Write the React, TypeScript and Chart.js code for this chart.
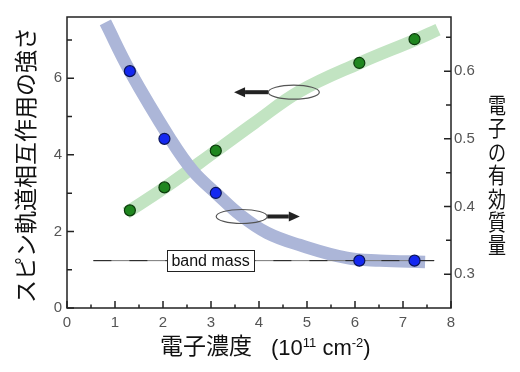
import { useEffect, useRef } from "react";
import { Chart, registerables } from "chart.js";

Chart.register(...registerables);

// ---- data ----
const density = [1.31, 2.03, 3.1, 6.09, 7.24];
const effectiveMass = [0.6, 0.5, 0.42, 0.32, 0.32];
const socStrength = [2.55, 3.15, 4.11, 6.4, 7.02];

// guide bands (hand-drawn trend lines in the picture)
const massBandX = [0.8, 1.31, 2.15, 2.63, 3.13, 3.6, 4.17, 4.85, 5.83, 6.52, 7.46];
const massBandY = [0.672, 0.6, 0.5, 0.452, 0.418, 0.388, 0.361, 0.343, 0.324, 0.32, 0.318];
const socBandX = [1.23, 2.02, 3.1, 3.9, 4.85, 6.1, 7.25, 7.73];
const socBandY = [2.48, 3.13, 4.1, 4.83, 5.66, 6.4, 7.0, 7.27];

// band mass reference line
const bandMassX = [0.55, 7.65];
const bandMassY = [0.32, 0.32];
const bandMassLabel = "band mass";
const bandMassLabelX = 2.99;

// axis arrows with ellipses (data coords, left axis)
const arrowLeft = { tipX: 3.48, ellipseX: 4.725, y: 5.636 };
const arrowRight = { tipX: 4.85, ellipseX: 3.64, y: 2.39 };

// ticks
const xMajorTicks = [0, 1, 2, 3, 4, 5, 6, 7, 8];
const xMinorTicks = [0.5, 1.5, 2.5, 3.5, 4.5, 5.5, 6.5, 7.5];
const leftMajorTicks = [0, 2, 4, 6];
const leftMinorTicks = [1, 3, 5, 7];
const rightMajorTicks = [0.3, 0.4, 0.5, 0.6];
const rightMinorTicks = [0.35, 0.45, 0.55, 0.65];

const leftTitle = "スピン軌道相互作用の強さ";
const rightTitle = "電子の有効質量";
const xTitleJa = "電子濃度";

const LATIN = '"Liberation Sans", Arial, sans-serif';
const CJK = '"Noto Sans CJK JP", sans-serif';

const decorPlugin = {
  id: "decor",
  afterDatasetsDraw(chart: any) {
    const { ctx, scales } = chart;
    const x = scales.x;
    const yl = scales.y;
    const yr = scales.y2;
    // band mass label box
    ctx.save();
    ctx.font = `16px ${LATIN}`;
    const tw = ctx.measureText(bandMassLabel).width;
    const cx = x.getPixelForValue(bandMassLabelX);
    const cy = yr.getPixelForValue(bandMassY[0]);
    const bw = tw + 9;
    const bh = 21;
    ctx.fillStyle = "#fff";
    ctx.fillRect(cx - bw / 2, cy - bh / 2, bw, bh);
    ctx.strokeStyle = "#222";
    ctx.lineWidth = 1;
    ctx.strokeRect(Math.round(cx - bw / 2) + 0.5, Math.round(cy - bh / 2) + 0.5, Math.round(bw), bh);
    ctx.fillStyle = "#111";
    ctx.textAlign = "center";
    ctx.textBaseline = "middle";
    ctx.fillText(bandMassLabel, cx, cy + 0.5);
    ctx.restore();

    // arrows with ellipses
    const drawArrow = (a: any, dir: number) => {
      const ex = x.getPixelForValue(a.ellipseX);
      const ey = yl.getPixelForValue(a.y);
      const tx = x.getPixelForValue(a.tipX);
      const rx = 25.5;
      const ry = 7;
      ctx.save();
      const startX = ex + dir * rx;
      const headLen = 11;
      ctx.fillStyle = "#222";
      ctx.fillRect(Math.min(startX, tx - dir * headLen), ey - 2, Math.abs(tx - dir * headLen - startX), 4);
      ctx.beginPath();
      ctx.moveTo(tx, ey);
      ctx.lineTo(tx - dir * headLen, ey - 5);
      ctx.lineTo(tx - dir * headLen, ey + 5);
      ctx.closePath();
      ctx.fill();
      ctx.beginPath();
      ctx.ellipse(ex, ey, rx, ry, 0, 0, Math.PI * 2);
      ctx.strokeStyle = "#555";
      ctx.lineWidth = 1.2;
      ctx.stroke();
      ctx.restore();
    };
    drawArrow(arrowLeft, -1);
    drawArrow(arrowRight, 1);
  },
  afterDraw(chart: any) {
    const { ctx, chartArea, scales } = chart;
    const { left, right, top, bottom } = chartArea;
    const x = scales.x;
    const yl = scales.y;
    const yr = scales.y2;
    ctx.save();
    ctx.strokeStyle = "#222";
    ctx.lineWidth = 1.5;
    ctx.strokeRect(left, top, right - left, bottom - top);
    ctx.lineWidth = 1.5;
    ctx.beginPath();
    const tickX = (vals: number[], len: number) => {
      vals.forEach((v) => {
        const px = x.getPixelForValue(v);
        ctx.moveTo(px, bottom);
        ctx.lineTo(px, bottom - len);
      });
    };
    const tickL = (vals: number[], len: number) => {
      vals.forEach((v) => {
        const py = yl.getPixelForValue(v);
        ctx.moveTo(left, py);
        ctx.lineTo(left + len, py);
      });
    };
    const tickR = (vals: number[], len: number) => {
      vals.forEach((v) => {
        const py = yr.getPixelForValue(v);
        ctx.moveTo(right, py);
        ctx.lineTo(right - len, py);
      });
    };
    tickX(xMajorTicks, 7);
    tickX(xMinorTicks, 3.5);
    tickL(leftMajorTicks, 7);
    tickL(leftMinorTicks, 5);
    tickR(rightMajorTicks, 7);
    tickR(rightMinorTicks, 5);
    ctx.stroke();

    // left title
    ctx.fillStyle = "#111";
    ctx.font = `23px ${CJK}`;
    ctx.textAlign = "center";
    ctx.textBaseline = "middle";
    ctx.save();
    ctx.translate(25, (top + bottom) / 2 + 2.5);
    ctx.rotate(-Math.PI / 2);
    ctx.fillText(leftTitle, 0, 0);
    ctx.restore();

    // right title, stacked upright
    const chars = Array.from(rightTitle);
    const step = 23.4;
    const startY = 93;
    chars.forEach((c, i) => {
      ctx.save();
      ctx.translate(497, startY + step * (i + 0.5));
      ctx.scale(0.82, 1);
      ctx.font = `22px ${CJK}`;
      ctx.textAlign = "center";
      ctx.textBaseline = "middle";
      ctx.fillText(c, 0, 0);
      ctx.restore();
    });

    // x title
    ctx.textAlign = "left";
    ctx.textBaseline = "middle";
    ctx.font = `23px ${CJK}`;
    ctx.fillText(xTitleJa, 160, 345.5);
    ctx.textBaseline = "alphabetic";
    let cx = 271;
    const base = 355;
    const part = (t: string, size: number, dy: number) => {
      ctx.font = `${size}px ${LATIN}`;
      ctx.fillText(t, cx, base + dy);
      cx += ctx.measureText(t).width;
    };
    part("(10", 22, 0);
    part("11", 13, -8.5);
    part(" cm", 22, 0);
    part("-2", 13, -8.5);
    part(")", 22, 0);
    ctx.restore();
  },
};

export default function App() {
  const ref = useRef<HTMLCanvasElement | null>(null);
  useEffect(() => {
    document.body.style.margin = "0";
    if (!ref.current) return;
    const toXY = (xs: number[], ys: number[]) => xs.map((v, i) => ({ x: v, y: ys[i] }));
    const tickFont = { family: LATIN, size: 15 };
    const chart = new Chart(ref.current, {
      type: "line",
      data: {
        datasets: [
          {
            label: "mass",
            data: toXY(density, effectiveMass),
            yAxisID: "y2",
            showLine: false,
            pointRadius: 5.5,
            pointBackgroundColor: "#1428f0",
            pointBorderColor: "#0a145a",
            pointBorderWidth: 1.2,
            order: 1,
          },
          {
            label: "soc",
            data: toXY(density, socStrength),
            yAxisID: "y",
            showLine: false,
            pointRadius: 5.5,
            pointBackgroundColor: "#1f861f",
            pointBorderColor: "#0b3a0b",
            pointBorderWidth: 1.2,
            order: 1,
          },
          {
            label: "bandmass-dash",
            data: toXY(bandMassX, bandMassY),
            yAxisID: "y2",
            borderColor: "#222",
            borderWidth: 1,
            borderDash: [18, 18],
            pointRadius: 0,
            order: 2,
          },
          {
            label: "bandmass",
            data: toXY(bandMassX, bandMassY),
            yAxisID: "y2",
            borderColor: "#777",
            borderWidth: 1,
            pointRadius: 0,
            order: 3,
          },
          {
            label: "massBand",
            data: toXY(massBandX, massBandY),
            yAxisID: "y2",
            borderColor: "rgb(172,182,216)",
            borderWidth: 12.5,
            borderCapStyle: "butt",
            pointRadius: 0,
            tension: 0.4,
            order: 4,
          },
          {
            label: "socBand",
            data: toXY(socBandX, socBandY),
            yAxisID: "y",
            borderColor: "rgb(194,228,194)",
            borderWidth: 12.5,
            borderCapStyle: "butt",
            pointRadius: 0,
            tension: 0.4,
            order: 5,
          },
        ],
      } as any,
      options: {
        animation: false,
        responsive: false,
        maintainAspectRatio: false,
        layout: { padding: { top: 17, left: 0, right: 0, bottom: 0 } },
        plugins: { legend: { display: false }, tooltip: { enabled: false } },
        scales: {
          x: {
            type: "linear",
            min: 0,
            max: 8,
            grid: { display: false, drawTicks: false },
            border: { display: false },
            afterBuildTicks: (s: any) => {
              s.ticks = xMajorTicks.map((v) => ({ value: v }));
            },
            afterFit: (s: any) => {
              s.height = 64;
            },
            ticks: { font: tickFont, color: "#555", padding: 6, maxRotation: 0 },
          },
          y: {
            type: "linear",
            position: "left",
            min: 0,
            max: 7.6,
            grid: { display: false, drawTicks: false },
            border: { display: false },
            afterBuildTicks: (s: any) => {
              s.ticks = leftMajorTicks.map((v) => ({ value: v }));
            },
            afterFit: (s: any) => {
              s.width = 67;
            },
            ticks: { font: tickFont, color: "#555", padding: 5 },
          },
          y2: {
            type: "linear",
            position: "right",
            min: 0.25,
            max: 0.68,
            grid: { display: false, drawTicks: false },
            border: { display: false },
            afterBuildTicks: (s: any) => {
              s.ticks = rightMajorTicks.map((v) => ({ value: v }));
            },
            afterFit: (s: any) => {
              s.width = 69;
            },
            ticks: {
              font: tickFont,
              color: "#555",
              padding: 3,
              callback: (v: any) => Number(v).toFixed(1),
            },
          },
        },
      } as any,
      plugins: [decorPlugin],
    });
    return () => chart.destroy();
  }, []);
  return (
    <div style={{ width: 520, height: 372 }}>
      <canvas ref={ref} width={520} height={372} style={{ display: "block", width: 520, height: 372 }} />
    </div>
  );
}
